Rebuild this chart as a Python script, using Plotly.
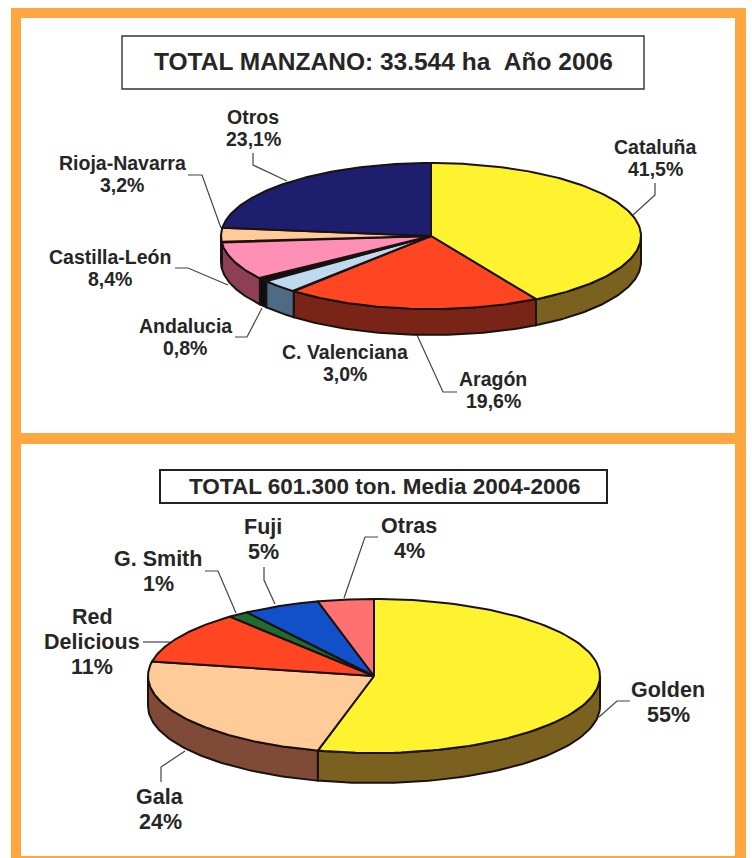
import numpy as np
import plotly.graph_objects as go

# ---------- data ----------
area_regions = ["Cataluña", "Aragón", "C. Valenciana", "Andalucia", "Castilla-León", "Rioja-Navarra", "Otros"]
area_shares = [41.5, 19.6, 3.0, 0.8, 8.4, 3.2, 23.1]
area_labels = ["41,5%", "19,6%", "3,0%", "0,8%", "8,4%", "3,2%", "23,1%"]

variety_names = ["Golden", "Gala", "Red Delicious", "G. Smith", "Fuji", "Otras"]
# slice sizes as drawn in the picture; printed labels are rounded differently
variety_shares = [54.0, 24.0, 11.0, 1.5, 5.5, 4.0]
variety_labels = ["55%", "24%", "11%", "1%", "5%", "4%"]

title_area = "TOTAL MANZANO: 33.544 ha \u00a0Año 2006"
title_variety = "TOTAL 601.300 ton. Media 2004-2006"

# ---------- styles ----------
area_top = ["#FFF22E", "#FF4522", "#BFDAEE", "#0D0D0D", "#FF8FB4", "#FFCC99", "#1E1E6E"]
area_side = ["#7A6120", "#7A2418", "#4F6B84", "#0D0D0D", "#8C3F55", "#8A6A50", "#14144A"]
variety_top = ["#FFF22E", "#FFCC99", "#FF4522", "#1F6B30", "#1150C8", "#FF7070"]
variety_side = ["#7A6120", "#7F4A38", "#7A2418", "#0F3A18", "#0A2A70", "#803838"]
ORANGE = "#FFA640"
INK = "#262626"
EDGE = "#1A1210"
FONT = "Liberation Sans"

fig = go.Figure()


def poly(xs, ys, color):
    fig.add_trace(go.Scatter(
        x=xs, y=ys, mode="lines", fill="toself", fillcolor=color,
        line=dict(color=EDGE, width=2), hoverinfo="skip", showlegend=False))


def pie3d(shares, tops, sides, cx, cy, rx, ry, depth):
    fr = np.cumsum([0] + list(shares)) / sum(shares) * 2 * np.pi
    # side walls (only the front half, clockwise angle pi/2..3pi/2, is visible)
    for a, b, col in zip(fr[:-1], fr[1:], sides):
        lo, hi = max(a, np.pi / 2), min(b, 3 * np.pi / 2)
        if hi <= lo:
            continue
        t = np.linspace(lo, hi, 60)
        x = cx + rx * np.sin(t)
        y = cy - ry * np.cos(t)
        poly(np.r_[x, x[::-1], x[0]], np.r_[y, y[::-1] + depth, y[0]], col)
    # top faces
    for a, b, col in zip(fr[:-1], fr[1:], tops):
        t = np.linspace(a, b, 120)
        poly(np.r_[cx, cx + rx * np.sin(t), cx], np.r_[cy, cy - ry * np.cos(t), cy], col)


pie3d(area_shares, area_top, area_side, 431, 236, 210, 73, 26)
pie3d(variety_shares, variety_top, variety_side, 374, 676, 226, 77, 30)

# ---------- frame ----------
shapes = []


def rect(x0, y0, x1, y1, fill, line=None, w=0):
    shapes.append(dict(type="rect", x0=x0, y0=y0, x1=x1, y1=y1, fillcolor=fill,
                       line=dict(color=line or fill, width=w), layer="below"))


rect(11, 8, 746, 858, ORANGE)
rect(21, 18, 735, 433, "#FFFFFF")
rect(21, 444, 735, 856, "#FFFFFF")
rect(122, 36, 644, 89, "#FFFFFF", "#333333", 1.4)
rect(160, 470, 607, 503, "#FFFFFF", "#222222", 2)

# ---------- leader lines ----------
leaders = [
    [(655, 183), (655, 195), (633, 215)],
    [(417, 335), (443, 392), (457, 392)],
    [(253, 153), (253, 165), (287, 181)],
    [(188, 175), (202, 175), (221, 228)],
    [(175, 268), (188, 268), (228, 285)],
    [(235, 337), (247, 337), (262, 308)],
    [(205, 571), (218, 571), (236, 613)],
    [(264, 567), (264, 580), (275, 604)],
    [(378, 537), (365, 537), (344, 598)],
    [(143, 642), (170, 642)],
    [(630, 701), (617, 701), (599, 717)],
    [(161, 782), (161, 767), (185, 751)],
]
for pts in leaders:
    path = "M " + " L ".join(f"{x},{y}" for x, y in pts)
    shapes.append(dict(type="path", path=path, line=dict(color="#444444", width=1.2), layer="below"))

# ---------- text ----------
annotations = []


def text(s, x, y, size, bold=True):
    annotations.append(dict(
        x=x, y=y, text=f"<b>{s}</b>" if bold else s, showarrow=False,
        xanchor="center", yanchor="middle", xref="x", yref="y",
        font=dict(family=FONT, size=size, color=INK)))


text(title_area, 383, 61, 24.5)
text(title_variety, 384, 486, 22.5)

area_pos = [(655, 147), (493, 379), (345, 352), (185, 326), (110, 257), (122, 163), (253, 117)]
for name, lab, (x, y) in zip(area_regions, area_labels, area_pos):
    text(name, x, y, 19.5)
    text(lab, x, y + 22, 19.5)

variety_pos = [(668, 690), (160, 797), (92, 617), (158, 559), (263, 527), (409, 526)]
for name, lab, (x, y) in zip(variety_names, variety_labels, variety_pos):
    words = ["Red", "Delicious"] if name == "Red Delicious" else [name]
    for i, w in enumerate(words):
        text(w, x, y + 25 * i, 21.5)
    text(lab, x, y + 25 * len(words), 21.5)

fig.update_layout(
    width=752, height=858, margin=dict(l=0, r=0, t=0, b=0),
    paper_bgcolor="#FFFFFF", plot_bgcolor="#FFFFFF", showlegend=False,
    xaxis=dict(range=[0, 752], visible=False, fixedrange=True),
    yaxis=dict(range=[858, 0], visible=False, fixedrange=True),
    shapes=shapes, annotations=annotations,
)

fig.write_html("out.html", config={"displayModeBar": False},
               post_script="document.body.style.margin='0';document.body.style.overflow='hidden';")
